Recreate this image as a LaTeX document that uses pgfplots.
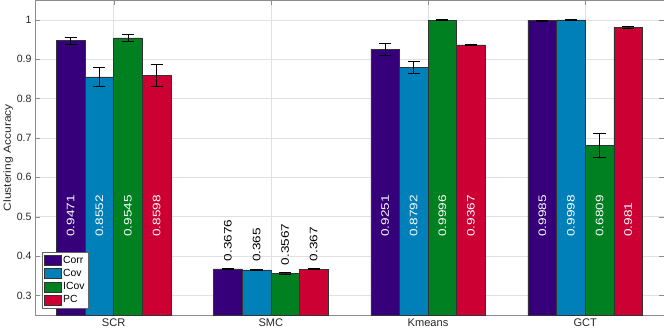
\documentclass[border=0pt]{standalone}
\usepackage{graphicx}
\usepackage{pgfplots}
\pgfplotsset{compat=1.18}
\usepackage{fontspec}
\setmainfont{Liberation Sans}

\definecolor{ccorr}{RGB}{53,0,122}
\definecolor{ccov}{RGB}{0,128,184}
\definecolor{cicov}{RGB}{0,128,32}
\definecolor{cpc}{RGB}{204,0,51}

\pgfplotsset{
    errbar/.style={draw=none, mark=none, forget plot,
        error bars/.cd, y dir=both, y explicit,
        error mark options={rotate=90, mark size=6pt, draw=black, line width=0.5pt},
        error bar style={draw=black, line width=0.5pt}},
    vallabel/.style={draw=none, mark=none, forget plot, nodes near coords={\scalebox{1}[0.8]{\pgfplotspointmeta}},
        point meta=explicit symbolic,
        every node near coord/.append style={rotate=90, anchor=west, text=#1,
            font=\fontsize{13.5}{15}\selectfont}},
}

\begin{document}
\begin{tikzpicture}
\begin{axis}[
    scale only axis,
    width=625pt,
    height=313pt,
    xmin=0.5, xmax=4.5,
    ymin=0.25, ymax=1.05,
    xtick={1,2,3,4},
    xticklabels={SCR,SMC,Kmeans,GCT},
    ytick={0.3,0.4,0.5,0.6,0.7,0.8,0.9,1},
    /pgf/number format/assume math mode=true,
    yticklabel style={font=\fontsize{10.5}{12}\selectfont, text=black!85},
    xticklabel style={font=\fontsize{11}{13}\selectfont, text=black!85},
    ylabel={\scalebox{1}[0.85]{Clustering Accuracy}},
    ylabel style={font=\fontsize{12}{14}\selectfont, text=black!85},
    ylabel shift=-3pt,
    tick align=inside,
    major tick length=5pt,
    tick style={black!45},
    axis line style={black!45},
    grid=major,
    grid style={black!12},
    legend style={at={(0.011,0.022)}, anchor=south west,
        font=\fontsize{10.3}{12}\selectfont, draw=black!60,
        row sep=0.5pt, inner sep=1.5pt},
    legend cell align=left,
    legend image code/.code={\draw[#1, draw=black!80] (0pt,-5pt) rectangle (17pt,5pt);},
]
% bars
\addplot[ybar, bar width=0.182, bar shift=-0.273, fill=ccorr, draw=black!80, line width=0.4pt] coordinates {
    (1,0.9471) (2,0.3676) (3,0.9251) (4,0.9985)
};
\addlegendentry{Corr}
\addplot[ybar, bar width=0.182, bar shift=-0.091, fill=ccov, draw=black!80, line width=0.4pt] coordinates {
    (1,0.8552) (2,0.3650) (3,0.8792) (4,0.9998)
};
\addlegendentry{Cov}
\addplot[ybar, bar width=0.182, bar shift=0.091, fill=cicov, draw=black!80, line width=0.4pt] coordinates {
    (1,0.9545) (2,0.3567) (3,0.9996) (4,0.6809)
};
\addlegendentry{ICov}
\addplot[ybar, bar width=0.182, bar shift=0.273, fill=cpc, draw=black!80, line width=0.4pt] coordinates {
    (1,0.8598) (2,0.3670) (3,0.9367) (4,0.9810)
};
\addlegendentry{PC}

% error bars at the bar centres
\addplot[errbar] coordinates {
    (0.727,0.9471) +- (0,0.008)  (1.727,0.3676) +- (0,0.0015)
    (2.727,0.9251) +- (0,0.015)  (3.727,0.9985) +- (0,0.001)
};
\addplot[errbar] coordinates {
    (0.909,0.8552) +- (0,0.025)  (1.909,0.3650) +- (0,0.0015)
    (2.909,0.8792) +- (0,0.015)  (3.909,0.9998) +- (0,0.001)
};
\addplot[errbar] coordinates {
    (1.091,0.9545) +- (0,0.010)  (2.091,0.3567) +- (0,0.002)
    (3.091,0.9996) +- (0,0.001)  (4.091,0.6809) +- (0,0.030)
};
\addplot[errbar] coordinates {
    (1.273,0.8598) +- (0,0.028)  (2.273,0.3670) +- (0,0.001)
    (3.273,0.9367) +- (0,0.002)  (4.273,0.9810) +- (0,0.003)
};

% value labels inside the tall bars
\addplot[vallabel=white] coordinates {
    (0.727,0.44)[0.9471] (0.909,0.44)[0.8552] (1.091,0.44)[0.9545] (1.273,0.44)[0.8598]
    (2.727,0.44)[0.9251] (2.909,0.44)[0.8792] (3.091,0.44)[0.9996] (3.273,0.44)[0.9367]
    (3.727,0.44)[0.9985] (3.909,0.44)[0.9998] (4.091,0.44)[0.6809] (4.273,0.44)[0.981]
};
% value labels above the SMC bars
\addplot[vallabel=black] coordinates {
    (1.727,0.378)[0.3676] (1.909,0.376)[0.365] (2.091,0.368)[0.3567] (2.273,0.378)[0.367]
};
\end{axis}
\end{tikzpicture}
\end{document}
